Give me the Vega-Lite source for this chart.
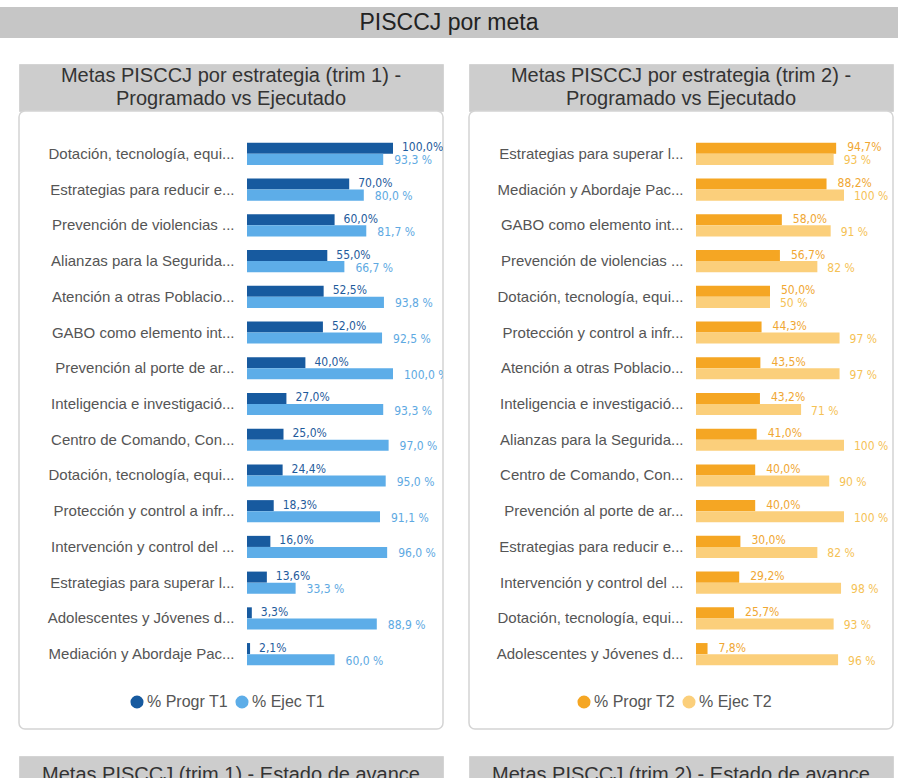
{
  "$schema": "https://vega.github.io/schema/vega-lite/v6.json",
  "padding": {"top": 7, "left": 0, "right": 0, "bottom": 0},
  "background": "white",
  "spacing": 25,
  "datasets": {
    "t1": [
      {"meta": "Dotación, tecnología, equi...", "serie": "% Progr T1", "valor": 100.0},
      {"meta": "Dotación, tecnología, equi...", "serie": "% Ejec T1", "valor": 93.3},
      {"meta": "Estrategias para reducir e...", "serie": "% Progr T1", "valor": 70.0},
      {"meta": "Estrategias para reducir e...", "serie": "% Ejec T1", "valor": 80.0},
      {"meta": "Prevención de violencias ...", "serie": "% Progr T1", "valor": 60.0},
      {"meta": "Prevención de violencias ...", "serie": "% Ejec T1", "valor": 81.7},
      {"meta": "Alianzas para la Segurida...", "serie": "% Progr T1", "valor": 55.0},
      {"meta": "Alianzas para la Segurida...", "serie": "% Ejec T1", "valor": 66.7},
      {"meta": "Atención a otras Poblacio...", "serie": "% Progr T1", "valor": 52.5},
      {"meta": "Atención a otras Poblacio...", "serie": "% Ejec T1", "valor": 93.8},
      {"meta": "GABO como elemento int...", "serie": "% Progr T1", "valor": 52.0},
      {"meta": "GABO como elemento int...", "serie": "% Ejec T1", "valor": 92.5},
      {"meta": "Prevención al porte de ar...", "serie": "% Progr T1", "valor": 40.0},
      {"meta": "Prevención al porte de ar...", "serie": "% Ejec T1", "valor": 100.0},
      {"meta": "Inteligencia e investigació...", "serie": "% Progr T1", "valor": 27.0},
      {"meta": "Inteligencia e investigació...", "serie": "% Ejec T1", "valor": 93.3},
      {"meta": "Centro de Comando, Con...", "serie": "% Progr T1", "valor": 25.0},
      {"meta": "Centro de Comando, Con...", "serie": "% Ejec T1", "valor": 97.0},
      {"meta": "Dotación, tecnología, equi...\u200b", "serie": "% Progr T1", "valor": 24.4},
      {"meta": "Dotación, tecnología, equi...\u200b", "serie": "% Ejec T1", "valor": 95.0},
      {"meta": "Protección y control a infr...", "serie": "% Progr T1", "valor": 18.3},
      {"meta": "Protección y control a infr...", "serie": "% Ejec T1", "valor": 91.1},
      {"meta": "Intervención y control del ...", "serie": "% Progr T1", "valor": 16.0},
      {"meta": "Intervención y control del ...", "serie": "% Ejec T1", "valor": 96.0},
      {"meta": "Estrategias para superar l...", "serie": "% Progr T1", "valor": 13.6},
      {"meta": "Estrategias para superar l...", "serie": "% Ejec T1", "valor": 33.3},
      {"meta": "Adolescentes y Jóvenes d...", "serie": "% Progr T1", "valor": 3.3},
      {"meta": "Adolescentes y Jóvenes d...", "serie": "% Ejec T1", "valor": 88.9},
      {"meta": "Mediación y Abordaje Pac...", "serie": "% Progr T1", "valor": 2.1},
      {"meta": "Mediación y Abordaje Pac...", "serie": "% Ejec T1", "valor": 60.0}
    ],
    "t2": [
      {"meta": "Estrategias para superar l...", "serie": "% Progr T2", "valor": 94.7},
      {"meta": "Estrategias para superar l...", "serie": "% Ejec T2", "valor": 93},
      {"meta": "Mediación y Abordaje Pac...", "serie": "% Progr T2", "valor": 88.2},
      {"meta": "Mediación y Abordaje Pac...", "serie": "% Ejec T2", "valor": 100},
      {"meta": "GABO como elemento int...", "serie": "% Progr T2", "valor": 58.0},
      {"meta": "GABO como elemento int...", "serie": "% Ejec T2", "valor": 91},
      {"meta": "Prevención de violencias ...", "serie": "% Progr T2", "valor": 56.7},
      {"meta": "Prevención de violencias ...", "serie": "% Ejec T2", "valor": 82},
      {"meta": "Dotación, tecnología, equi...", "serie": "% Progr T2", "valor": 50.0},
      {"meta": "Dotación, tecnología, equi...", "serie": "% Ejec T2", "valor": 50},
      {"meta": "Protección y control a infr...", "serie": "% Progr T2", "valor": 44.3},
      {"meta": "Protección y control a infr...", "serie": "% Ejec T2", "valor": 97},
      {"meta": "Atención a otras Poblacio...", "serie": "% Progr T2", "valor": 43.5},
      {"meta": "Atención a otras Poblacio...", "serie": "% Ejec T2", "valor": 97},
      {"meta": "Inteligencia e investigació...", "serie": "% Progr T2", "valor": 43.2},
      {"meta": "Inteligencia e investigació...", "serie": "% Ejec T2", "valor": 71},
      {"meta": "Alianzas para la Segurida...", "serie": "% Progr T2", "valor": 41.0},
      {"meta": "Alianzas para la Segurida...", "serie": "% Ejec T2", "valor": 100},
      {"meta": "Centro de Comando, Con...", "serie": "% Progr T2", "valor": 40.0},
      {"meta": "Centro de Comando, Con...", "serie": "% Ejec T2", "valor": 90},
      {"meta": "Prevención al porte de ar...", "serie": "% Progr T2", "valor": 40.0},
      {"meta": "Prevención al porte de ar...", "serie": "% Ejec T2", "valor": 100},
      {"meta": "Estrategias para reducir e...", "serie": "% Progr T2", "valor": 30.0},
      {"meta": "Estrategias para reducir e...", "serie": "% Ejec T2", "valor": 82},
      {"meta": "Intervención y control del ...", "serie": "% Progr T2", "valor": 29.2},
      {"meta": "Intervención y control del ...", "serie": "% Ejec T2", "valor": 98},
      {"meta": "Dotación, tecnología, equi...\u200b", "serie": "% Progr T2", "valor": 25.7},
      {"meta": "Dotación, tecnología, equi...\u200b", "serie": "% Ejec T2", "valor": 93},
      {"meta": "Adolescentes y Jóvenes d...", "serie": "% Progr T2", "valor": 7.8},
      {"meta": "Adolescentes y Jóvenes d...", "serie": "% Ejec T2", "valor": 96}
    ]
  },
  "vconcat": [
    {
      "width": 898, "height": 31,
      "view": {"fill": "#c6c6c6", "stroke": null},
      "data": {"values": [{"titulo": "PISCCJ por meta"}]},
      "mark": {"type": "text", "fontSize": 23, "font": "Liberation Sans", "color": "#222222", "baseline": "middle"},
      "encoding": {"text": {"field": "titulo", "type": "nominal"}}
    },
    {
      "hconcat": [
        {
          "width": 5, "height": 1,
          "view": {"stroke": null},
          "data": {"values": [{}]},
          "mark": {"type": "text", "baseline": "top", "fontSize": 1},
          "encoding": {"text": {"value": ""}}
        },
        {
          "hconcat": [
            {
              "vconcat": [
                {
                  "width": 424, "height": 47,
                  "view": {"fill": "#cdcdcd", "stroke": "#d4d4d4"},
                  "data": {"values": [{"n": 1, "linea": "Metas PISCCJ por estrategia (trim 1) -"}, {"n": 2, "linea": "Programado vs Ejecutado"}]},
                  "mark": {"type": "text", "fontSize": 20, "font": "Liberation Sans", "color": "#333333", "baseline": "middle"},
                  "encoding": {
                    "y": {"field": "n", "type": "ordinal", "axis": null},
                    "text": {"field": "linea", "type": "nominal"}
                  }
                },
                {
                  "width": 424, "height": 618,
                  "view": {"stroke": "#d4d4d4", "strokeWidth": 1.5, "cornerRadius": 6, "fill": "white"},
                  "data": {"name": "t1"},
                  "encoding": {
                    "y": {"field": "meta", "type": "nominal", "sort": null,
                      "scale": {"range": [25, 561], "paddingInner": 0.38, "paddingOuter": 0.19},
                      "axis": {"title": null, "orient": "left", "offset": -219, "ticks": false, "domain": false, "grid": false, "labelPadding": 4, "labelFontSize": 15, "labelFont": "Liberation Sans", "labelColor": "#555555", "labelLimit": 400}},
                    "yOffset": {"field": "serie", "type": "nominal", "sort": ["% Progr T1", "% Ejec T1"], "scale": {"paddingInner": 0, "paddingOuter": 0}},
                    "x": {"field": "valor", "type": "quantitative", "scale": {"domain": [0, 100], "range": [228, 374]}, "axis": null}
                  },
                  "layer": [
                    {
                      "mark": {"type": "bar"},
                      "encoding": {
                        "color": {"field": "serie", "type": "nominal",
                          "scale": {"domain": ["% Progr T1", "% Ejec T1"], "range": ["#175a9f", "#5dade8"]},
                          "legend": {"title": null, "orient": "none", "legendX": 110, "legendY": 630, "direction": "horizontal", "symbolType": "circle", "symbolSize": 170, "labelFontSize": 16, "labelFont": "Liberation Sans", "labelColor": "#555555", "columnPadding": 6, "labelOffset": 2, "symbolStrokeWidth": 0}}
                      }
                    },
                    {
                      "transform": [{"calculate": "datum.serie === '% Progr T1' ? replace(format(datum.valor, '.1f'), '.', ',') + '%' : ''", "as": "etq"}],
                      "mark": {"type": "text", "align": "left", "baseline": "middle", "dx": 9, "dy": -1, "clip": true, "font": "DejaVu Sans Condensed, Liberation Sans Narrow, sans-serif", "fontSize": 12, "color": "#1f5b9c"},
                      "encoding": {"text": {"field": "etq", "type": "nominal"}}
                    },
                    {
                      "transform": [{"calculate": "datum.serie === '% Ejec T1' ? replace(format(datum.valor, '.1f'), '.', ',') + ' %' : ''", "as": "etq"}],
                      "mark": {"type": "text", "align": "left", "baseline": "middle", "dx": 11, "dy": 1, "clip": true, "font": "DejaVu Sans Condensed, Liberation Sans Narrow, sans-serif", "fontSize": 12, "color": "#5ea9e2"},
                      "encoding": {"text": {"field": "etq", "type": "nominal"}}
                    }
                  ]
                }
              ],
              "spacing": 0,
              "bounds": "flush",
              "resolve": {"scale": {"y": "independent"}}
            },
            {
              "vconcat": [
                {
                  "width": 424, "height": 47,
                  "view": {"fill": "#cdcdcd", "stroke": "#d4d4d4"},
                  "data": {"values": [{"n": 1, "linea": "Metas PISCCJ por estrategia (trim 2) -"}, {"n": 2, "linea": "Programado vs Ejecutado"}]},
                  "mark": {"type": "text", "fontSize": 20, "font": "Liberation Sans", "color": "#333333", "baseline": "middle"},
                  "encoding": {
                    "y": {"field": "n", "type": "ordinal", "axis": null},
                    "text": {"field": "linea", "type": "nominal"}
                  }
                },
                {
                  "width": 424, "height": 618,
                  "view": {"stroke": "#d4d4d4", "strokeWidth": 1.5, "cornerRadius": 6, "fill": "white"},
                  "data": {"name": "t2"},
                  "encoding": {
                    "y": {"field": "meta", "type": "nominal", "sort": null,
                      "scale": {"range": [25, 561], "paddingInner": 0.38, "paddingOuter": 0.19},
                      "axis": {"title": null, "orient": "left", "offset": -218, "ticks": false, "domain": false, "grid": false, "labelPadding": 4, "labelFontSize": 15, "labelFont": "Liberation Sans", "labelColor": "#555555", "labelLimit": 400}},
                    "yOffset": {"field": "serie", "type": "nominal", "sort": ["% Progr T2", "% Ejec T2"], "scale": {"paddingInner": 0, "paddingOuter": 0}},
                    "x": {"field": "valor", "type": "quantitative", "scale": {"domain": [0, 100], "range": [227, 375]}, "axis": null}
                  },
                  "layer": [
                    {
                      "mark": {"type": "bar"},
                      "encoding": {
                        "color": {"field": "serie", "type": "nominal",
                          "scale": {"domain": ["% Progr T2", "% Ejec T2"], "range": ["#f5a623", "#fbcf7b"]},
                          "legend": {"title": null, "orient": "none", "legendX": 107, "legendY": 630, "direction": "horizontal", "symbolType": "circle", "symbolSize": 170, "labelFontSize": 16, "labelFont": "Liberation Sans", "labelColor": "#555555", "columnPadding": 6, "labelOffset": 2, "symbolStrokeWidth": 0}}
                      }
                    },
                    {
                      "transform": [{"calculate": "datum.serie === '% Progr T2' ? replace(format(datum.valor, '.1f'), '.', ',') + '%' : ''", "as": "etq"}],
                      "mark": {"type": "text", "align": "left", "baseline": "middle", "dx": 11, "dy": -1, "clip": true, "font": "DejaVu Sans Condensed, Liberation Sans Narrow, sans-serif", "fontSize": 12, "color": "#f0a733"},
                      "encoding": {"text": {"field": "etq", "type": "nominal"}}
                    },
                    {
                      "transform": [{"calculate": "datum.serie === '% Ejec T2' ? format(datum.valor, '.0f') + ' %' : ''", "as": "etq"}],
                      "mark": {"type": "text", "align": "left", "baseline": "middle", "dx": 10, "dy": 1, "clip": true, "font": "DejaVu Sans Condensed, Liberation Sans Narrow, sans-serif", "fontSize": 12, "color": "#f5c255"},
                      "encoding": {"text": {"field": "etq", "type": "nominal"}}
                    }
                  ]
                }
              ],
              "spacing": 0,
              "bounds": "flush",
              "resolve": {"scale": {"y": "independent"}}
            }
          ],
          "spacing": 24,
          "resolve": {"scale": {"x": "independent", "y": "independent", "yOffset": "independent", "color": "independent"}, "legend": {"color": "independent"}, "axis": {"y": "independent"}}
        }
      ],
      "spacing": 13
    },
    {
      "hconcat": [
        {
          "width": 5, "height": 1,
          "view": {"stroke": null},
          "data": {"values": [{}]},
          "mark": {"type": "text", "baseline": "top", "fontSize": 1},
          "encoding": {"text": {"value": ""}}
        },
        {
          "hconcat": [
            {
              "width": 424, "height": 25,
              "view": {"fill": "#cdcdcd", "stroke": "#d4d4d4"},
              "data": {"values": [{"titulo": "Metas PISCCJ (trim 1) - Estado de avance"}]},
              "mark": {"type": "text", "fontSize": 20, "font": "Liberation Sans", "color": "#333333", "baseline": "middle", "dy": 6, "clip": true},
              "encoding": {"text": {"field": "titulo", "type": "nominal"}}
            },
            {
              "width": 424, "height": 25,
              "view": {"fill": "#cdcdcd", "stroke": "#d4d4d4"},
              "data": {"values": [{"titulo": "Metas PISCCJ (trim 2) - Estado de avance"}]},
              "mark": {"type": "text", "fontSize": 20, "font": "Liberation Sans", "color": "#333333", "baseline": "middle", "dy": 6, "clip": true},
              "encoding": {"text": {"field": "titulo", "type": "nominal"}}
            }
          ],
          "spacing": 24
        }
      ],
      "spacing": 13
    }
  ],
  "config": {"view": {"stroke": null}, "font": "Liberation Sans"}
}
